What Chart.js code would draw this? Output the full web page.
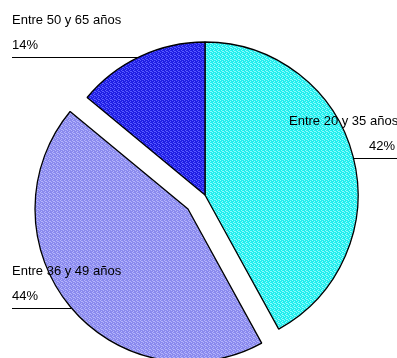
<!DOCTYPE html>
<html>
<head>
<meta charset="utf-8">
<script src="https://cdn.jsdelivr.net/npm/chart.js@4/dist/chart.umd.min.js"></script>
<style>
  html, body { margin: 0; padding: 0; background: #fff; }
  #wrap { width: 397px; height: 358px; position: relative; }
</style>
</head>
<body>
<div id="wrap"><canvas id="grafico"></canvas></div>
<script>
// Distribución por grupos de edad
const categorias = ['Entre 20 y 35 años', 'Entre 36 y 49 años', 'Entre 50 y 65 años'];
const porcentajes = [42, 44, 14];

// color base y color del punteado de cada porción
const coloresBase = ['#22eeee', '#8a8aee', '#1f1fe4'];
const coloresPunto = ['#8ffcfc', '#b4b4fb', '#5a5aff'];
const separacion = [0, 22, 0]; // desplazamiento de cada porción hacia fuera

// posición de las etiquetas y altura de la línea guía
const etiquetas = [
    { lado: 'derecha', xTexto: 289, xPct: 395, yLinea: 158 },
    { lado: 'izquierda', xTexto: 12, xPct: 12, yLinea: 308 },
    { lado: 'izquierda', xTexto: 12, xPct: 12, yLinea: 57 }
];

// relleno punteado tipo trama
function trama(base, punto) {
    const c = document.createElement('canvas');
    c.width = 4; c.height = 4;
    const g = c.getContext('2d');
    g.fillStyle = base;
    g.fillRect(0, 0, 4, 4);
    g.fillStyle = punto;
    [[0, 0], [2, 1], [1, 2], [3, 3], [2, 3]].forEach(([x, y]) => g.fillRect(x, y, 1, 1));
    return document.getElementById('grafico').getContext('2d').createPattern(c, 'repeat');
}
const rellenos = coloresBase.map((b, i) => trama(b, coloresPunto[i]));

function desplazamiento(arco, i) {
    const medio = (arco.startAngle + arco.endAngle) / 2;
    return { dx: Math.cos(medio) * separacion[i], dy: Math.sin(medio) * separacion[i] };
}

// dibuja las porciones con su separación
const porcionesSeparadas = {
    id: 'porcionesSeparadas',
    beforeDatasetDraw(chart, args) {
        const ctx = chart.ctx;
        args.meta.data.forEach((arco, i) => {
            const { dx, dy } = desplazamiento(arco, i);
            ctx.save();
            ctx.translate(Math.round(dx), Math.round(dy));
            arco.draw(ctx);
            ctx.restore();
        });
        return false;
    }
};

// textos con línea guía hasta el borde de cada porción
const rotulos = {
    id: 'rotulos',
    afterDatasetsDraw(chart) {
        const ctx = chart.ctx;
        const meta = chart.getDatasetMeta(0);
        ctx.save();
        ctx.font = '13px "Liberation Sans", Arial, sans-serif';
        ctx.fillStyle = '#000';
        ctx.strokeStyle = '#000';
        ctx.lineWidth = 1;
        ctx.textBaseline = 'middle';
        meta.data.forEach((arco, i) => {
            const e = etiquetas[i];
            const { dx, dy } = desplazamiento(arco, i);
            const cx = arco.x + Math.round(dx), cy = arco.y + Math.round(dy), r = arco.outerRadius;
            const h = Math.sqrt(Math.max(r * r - (e.yLinea - cy) ** 2, 0));
            const pct = porcentajes[i] + '%';

            ctx.textAlign = 'left';
            ctx.fillText(categorias[i], e.xTexto, e.yLinea - 37);
            ctx.beginPath();
            if (e.lado === 'izquierda') {
                ctx.fillText(pct, e.xPct, e.yLinea - 12);
                ctx.moveTo(e.xTexto, e.yLinea + 0.5);
                ctx.lineTo(cx - h, e.yLinea + 0.5);
            } else {
                ctx.textAlign = 'right';
                ctx.fillText(pct, e.xPct, e.yLinea - 12);
                ctx.moveTo(cx + h, e.yLinea + 0.5);
                ctx.lineTo(chart.width, e.yLinea + 0.5);
            }
            ctx.stroke();
        });
        ctx.restore();
    }
};

new Chart(document.getElementById('grafico'), {
    type: 'pie',
    data: {
        labels: categorias,
        datasets: [{
            data: porcentajes,
            backgroundColor: rellenos,
            borderColor: '#000',
            borderWidth: 1.3,
            radius: 153
        }]
    },
    options: {
        responsive: true,
        maintainAspectRatio: false,
        animation: false,
        events: [],
        layout: { padding: { left: 13, right: 0, top: 32, bottom: 0 } },
        plugins: {
            legend: { display: false },
            tooltip: { enabled: false }
        }
    },
    plugins: [porcionesSeparadas, rotulos]
});
</script>
</body>
</html>
